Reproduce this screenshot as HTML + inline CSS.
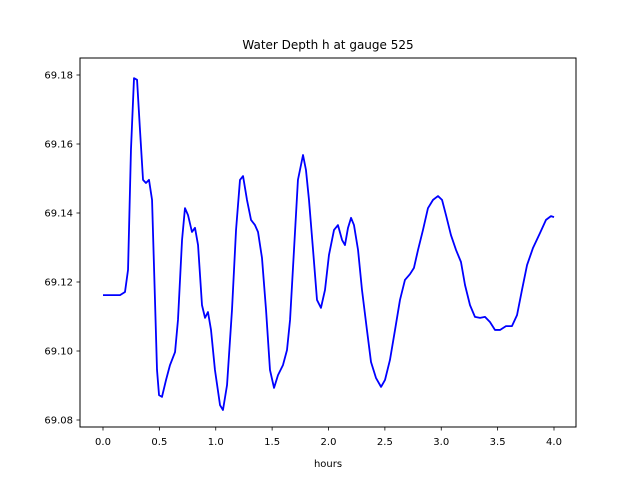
<!DOCTYPE html>
<html><head><meta charset="utf-8"><style>
body{margin:0;background:#fff;}
svg{display:block;font-family:"DejaVu Sans","Liberation Sans",sans-serif;}
</style></head><body>
<svg id="chart" width="640" height="480">
<rect width="640" height="480" fill="#fff"/>
</svg>
<script>
const hours=[0,0.151,0.195,0.222,0.248,0.275,0.302,0.328,0.355,0.381,0.408,0.435,0.461,0.479,0.497,0.523,0.559,0.594,0.639,0.665,0.701,0.727,0.754,0.789,0.816,0.843,0.878,0.905,0.931,0.958,0.993,1.038,1.064,1.100,1.144,1.180,1.215,1.242,1.277,1.313,1.348,1.375,1.410,1.446,1.481,1.517,1.552,1.596,1.632,1.659,1.694,1.729,1.774,1.800,1.827,1.863,1.898,1.933,1.969,2.004,2.049,2.084,2.120,2.146,2.173,2.200,2.226,2.262,2.297,2.341,2.377,2.421,2.466,2.501,2.545,2.590,2.634,2.678,2.723,2.758,2.794,2.838,2.882,2.927,2.971,3.007,3.042,3.086,3.131,3.175,3.211,3.255,3.299,3.344,3.388,3.432,3.477,3.521,3.574,3.627,3.672,3.716,3.761,3.814,3.876,3.929,3.973,4.0];
const depth=[69.1162,69.1162,69.1171,69.1235,69.1583,69.1791,69.1786,69.1641,69.1496,69.1487,69.1496,69.1438,69.1148,69.0945,69.0872,69.0867,69.0916,69.0959,69.0997,69.1090,69.1322,69.1414,69.1394,69.1345,69.1357,69.1307,69.1133,69.1096,69.1113,69.1061,69.0945,69.0843,69.0829,69.0901,69.1119,69.1351,69.1496,69.1507,69.1438,69.1380,69.1365,69.1345,69.1270,69.1119,69.0945,69.0893,69.0930,69.0959,69.1003,69.1090,69.1293,69.1496,69.1568,69.1525,69.1438,69.1293,69.1148,69.1125,69.1177,69.1278,69.1351,69.1365,69.1322,69.1307,69.1357,69.1386,69.1365,69.1293,69.1177,69.1061,69.0968,69.0922,69.0896,69.0916,69.0974,69.1061,69.1148,69.1206,69.1223,69.1241,69.1293,69.1351,69.1414,69.1438,69.1449,69.1438,69.1394,69.1336,69.1293,69.1258,69.1191,69.1133,69.1099,69.1096,69.1099,69.1084,69.1061,69.1061,69.1072,69.1072,69.1104,69.1177,69.1249,69.1299,69.1342,69.1380,69.1391,69.1388];
const xTicks=[0,0.5,1,1.5,2,2.5,3,3.5,4];
const xTickLabels=["0.0","0.5","1.0","1.5","2.0","2.5","3.0","3.5","4.0"];
const yTicks=[69.08,69.10,69.12,69.14,69.16,69.18];
const yTickLabels=["69.08","69.10","69.12","69.14","69.16","69.18"];

const NS="http://www.w3.org/2000/svg";
const svg=document.getElementById('chart');
const L=80,R=576,T=58,B=427;
const xs=v=>103+(v-0)*112.75;
const ys=v=>420-(v-69.08)*3450;
function mk(tag,attrs,parent){const e=document.createElementNS(NS,tag);for(const k in attrs)e.setAttribute(k,attrs[k]);(parent||svg).appendChild(e);return e;}

const line=mk('polyline',{fill:'none',stroke:'#0000ff','stroke-width':1.8,'stroke-linejoin':'round',points:hours.map((h,i)=>xs(h).toFixed(2)+','+ys(depth[i]).toFixed(2)).join(' ')});



const frame=mk('rect',{x:L,y:T,width:R-L,height:B-T,fill:'none',stroke:'#000','stroke-width':1});



xTicks.forEach((t,i)=>{
 const x=xs(t);
 const tk=mk('line',{x1:x,x2:x,y1:B,y2:B+3.5,stroke:'#000','stroke-width':0.8});
 
 
 const tx=mk('text',{x:x,y:B+18,'font-size':10,'text-anchor':'middle',fill:'#000'});
 tx.textContent=xTickLabels[i];
 
 
});
yTicks.forEach((t,i)=>{
 const y=ys(t);
 const tk=mk('line',{x1:L-3.5,x2:L,y1:y,y2:y,stroke:'#000','stroke-width':0.8});
 
 
 const tx=mk('text',{x:L-7,y:y+3.5,'font-size':10,'text-anchor':'end',fill:'#000'});
 tx.textContent=yTickLabels[i];
 
 
});
const title=mk('text',{x:328,y:49,'font-size':12,'text-anchor':'middle',fill:'#000'});
title.textContent='Water Depth h at gauge 525';


const xl=mk('text',{x:328,y:467,'font-size':10,'text-anchor':'middle',fill:'#000'});
xl.textContent='hours';


</script>
</body></html>
